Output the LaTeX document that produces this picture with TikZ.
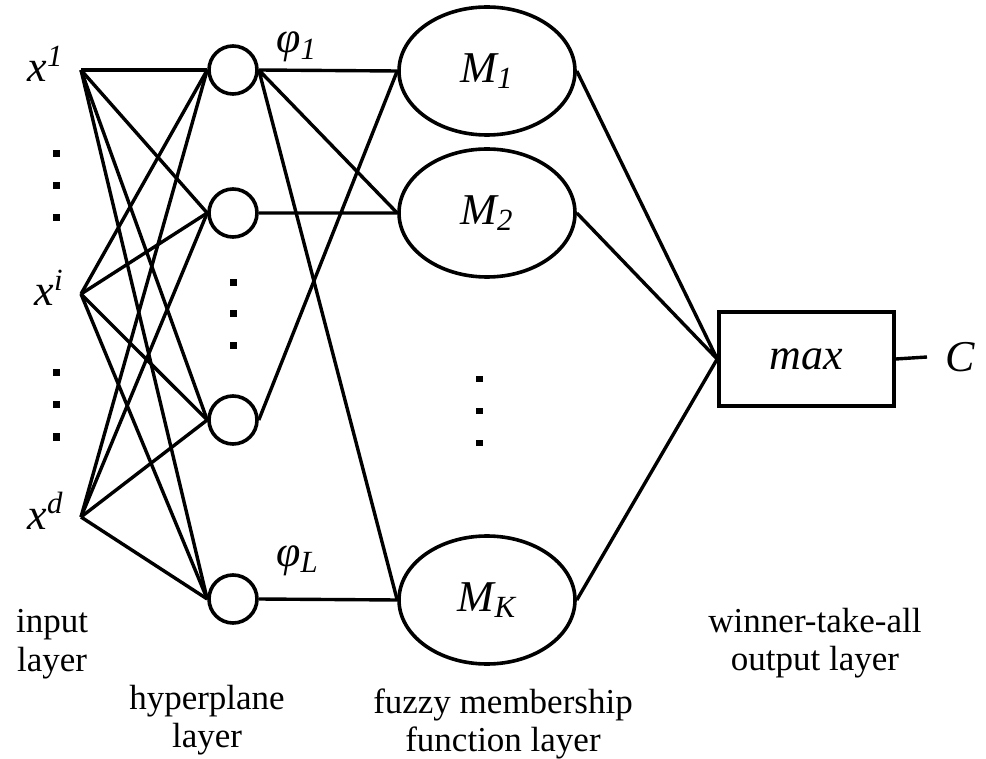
\documentclass[tikz,border=0pt]{standalone}
\usepackage{fontspec}
\setmainfont{Liberation Serif}
\usetikzlibrary{shapes.geometric}
\tikzset{
  hp/.style={circle,draw=black,fill=white,line width=1.8pt,minimum size=24pt,inner sep=0pt},
  mf/.style={ellipse,draw=black,fill=white,line width=1.8pt,minimum width=88pt,minimum height=64pt,inner sep=0pt,font=\fontsize{22}{26}\selectfont\itshape},
  wta/.style={rectangle,draw=black,fill=white,line width=1.8pt,minimum width=87.5pt,minimum height=47pt,inner sep=0pt,font=\fontsize{22}{26}\selectfont\itshape},
  lnk/.style={draw=black,line width=1.7pt},
  lb/.style={inner sep=0pt,font=\fontsize{22}{26}\selectfont\itshape},
  lay/.style={inner sep=0pt,align=center,font=\fontsize{17.5}{19.25}\selectfont},
}

\begin{document}
\begin{tikzpicture}[x=0.5pt,y=-0.5pt]
\useasboundingbox (0,0) rectangle (986,759);
% input layer
\coordinate (x1) at (81,70); \coordinate (xi) at (81,294); \coordinate (xd) at (81,517);
\node[lb,anchor=base east] (lx1) at (64,82) {x\textsuperscript{1}};
\node[lb,anchor=base east] (lxi) at (64,306) {x\textsuperscript{i}};
\node[lb,anchor=base east] (lxd) at (64,529) {x\textsuperscript{d}};
\foreach \y in {154,186,218,373,405,437}
  \fill (56,\y) ++(-3.5,-3.5) rectangle ++(7,7);
% hyperplane layer
\node[hp] (h1) at (233,70) {}; \node[hp] (h2) at (233,213) {};
\node[hp] (h3) at (233,420) {}; \node[hp] (hL) at (233,599) {};
\foreach \y in {283,314,346}
  \fill (233,\y) ++(-3.5,-3.5) rectangle ++(7,7);
\node[lb,anchor=base west] (p1) at (276,53) {φ\textsubscript{1}};
\node[lb,anchor=base west] (pL) at (276,566) {φ\textsubscript{L}};
% fuzzy membership function layer
\node[mf] (m1) at (487,71) {M\textsubscript{1}};
\node[mf] (m2) at (487,213) {M\textsubscript{2}};
\node[mf] (mK) at (487,600) {M\textsubscript{K}};
\foreach \y in {379,411,443}
  \fill (479,\y) ++(-3.5,-3) rectangle ++(7,6);
% winner-take-all output layer
\node[wta] (mx) at (806.5,359) {max};
\node[lb,anchor=west,inner xsep=9pt] (C) at (927,357) {C};
\foreach \s in {x1,xi,xd}
  \foreach \t in {h1,h2,h3,hL}
    \draw[lnk] (\s) -- (\t.west);
\draw[lnk] (h1.east) -- (m1.west) (h1.east) -- (m2.west) (h1.east) -- (mK.west);
\draw[lnk] (h2.east) -- (m2.west) (h3.east) -- (m1.west) (hL.east) -- (mK.west);
\draw[lnk] (m1.east) -- (mx.west) (m2.east) -- (mx.west) (mK.east) -- (mx.west);
\draw[lnk] (mx.east) -- (C.west);
% layer names
\node[lay] (ti) at (52,644) {input\\layer};
\node[lay] (th) at (207,720) {hyperplane\\layer};
\node[lay] (tf) at (503,724) {fuzzy membership\\function layer};
\node[lay] (tw) at (815,643) {winner-take-all\\output layer};
\end{tikzpicture}
\end{document}
